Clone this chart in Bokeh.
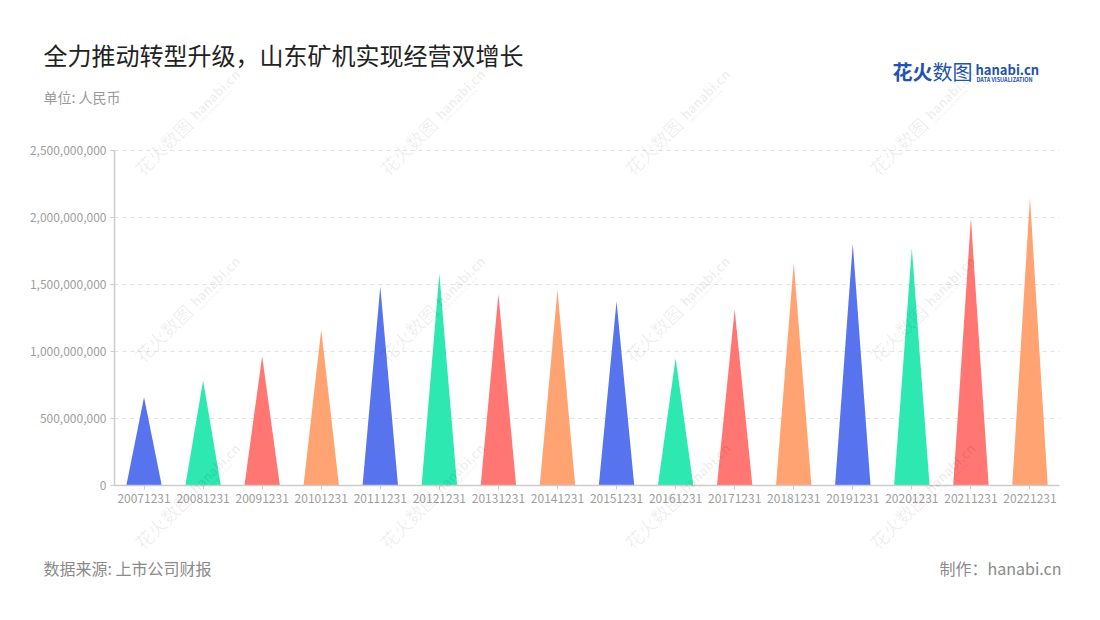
from bokeh.plotting import figure
from bokeh.models import (Range1d, FixedTicker, NumeralTickFormatter, Label, ColumnDataSource)
from bokeh.embed import file_html
from bokeh.resources import INLINE

# ---- data ----
periods = ["20071231", "20081231", "20091231", "20101231", "20111231", "20121231",
           "20131231", "20141231", "20151231", "20161231", "20171231", "20181231",
           "20191231", "20201231", "20211231", "20221231"]
revenue = [659e6, 784e6, 965e6, 1164e6, 1485e6, 1580e6, 1430e6, 1460e6,
           1375e6, 950e6, 1313e6, 1662e6, 1804e6, 1771e6, 1995e6, 2151e6]
palette = ["#5873EE", "#2DE8B0", "#FF7672", "#FFA372"]
y_ticks = [0, 500e6, 1000e6, 1500e6, 2000e6, 2500e6]

FONT = "Noto Sans CJK SC"
W, H = 1096, 616
# data region in page pixels
FL, FR, FT, FB = 114, 1059, 150, 485
N = len(periods)
YMAX = 2.5e9
xpp = N / (FR - FL)          # data units per pixel (x)
ypp = YMAX / (FB - FT)       # data units per pixel (y)
x0 = -0.5 - FL * xpp
x1 = -0.5 + (W - FL) * xpp
y1 = FB * ypp
y0 = -(H - FB) * ypp

p = figure(width=W, height=H, output_backend="svg", toolbar_location=None,
           x_range=Range1d(x0, x1), y_range=Range1d(y0, y1),
           min_border=0, min_border_left=0, min_border_right=0,
           min_border_top=0, min_border_bottom=0, title=None)
p.outline_line_color = None
p.background_fill_color = "white"
p.border_fill_color = "white"
p.xgrid.visible = False
p.ygrid.visible = False

# dashed horizontal grid lines at the y ticks
grid_y = y_ticks[1:]
p.segment(x0=[-0.5] * len(grid_y), x1=[N - 0.5] * len(grid_y), y0=grid_y, y1=grid_y,
          line_color="#e2e2e2", line_dash="4 4", line_width=1)

half = 0.3
xs = [[i - half, i, i + half] for i in range(N)]
ys = [[0, v, 0] for v in revenue]
cols = [palette[i % 4] for i in range(N)]
src = ColumnDataSource(dict(xs=xs, ys=ys, color=cols))
p.patches("xs", "ys", source=src, fill_color="color", line_color=None)

# axes (fixed inside the frame)
xa, ya = p.xaxis[0], p.yaxis[0]
xa.fixed_location = 0
ya.fixed_location = -0.5
xa.bounds = (-0.5, N - 0.5)
ya.bounds = (0, YMAX)
xa.ticker = FixedTicker(ticks=list(range(N)))
xa.major_label_overrides = {i: s for i, s in enumerate(periods)}
ya.ticker = FixedTicker(ticks=y_ticks)
ya.formatter = NumeralTickFormatter(format="0,0")
for ax in (xa, ya):
    ax.axis_line_color = "#cccccc"
    ax.axis_line_width = 1.5
    ax.major_tick_line_color = "#cccccc"
    ax.major_tick_in = 0
    ax.major_tick_out = 4
    ax.minor_tick_line_color = None
    ax.major_label_text_color = "#9e9e9e"
    ax.major_label_text_font = FONT
    ax.major_label_text_font_size = "12px"
    ax.major_label_standoff = 4


def add_label(text, px, py, size, color, align="left", style="normal", alpha=1.0,
              angle=0, font=FONT, baseline="middle"):
    p.add_layout(Label(x=px, y=H - py, x_units="screen", y_units="screen", text=text,
                       text_font=font, text_font_size=f"{size}px", text_color=color,
                       text_align=align, text_baseline=baseline, text_font_style=style,
                       text_alpha=alpha, angle=angle, angle_units="deg"))


# watermarks (junction point between the Chinese and Latin parts)
for jx in (190, 435, 680, 925):
    for jy in (118, 305, 492):
        add_label("花火数图", jx - 2, jy + 2, 18, "#000000", align="right",
                  alpha=0.075, angle=45)
        add_label("hanabi.cn", jx + 2, jy - 2, 13, "#000000", align="left",
                  style="bold", alpha=0.075, angle=45)
        add_label("DATA VISUALIZATION", jx + 9, jy + 4, 4.5, "#000000", align="left",
                  style="bold", alpha=0.075, angle=45)

add_label("全力推动转型升级，山东矿机实现经营双增长", 43, 54, 24, "#222222")
add_label("单位: 人民币", 43, 96, 14, "#9a9a9a")
add_label("数据来源: 上市公司财报", 43, 567, 16, "#8a8a8a")
add_label("制作：hanabi.cn", 1061, 567, 16, "#8a8a8a", align="right")
# logo
add_label("花火", 892, 71, 20, "#2552AC", style="bold")
add_label("数图", 932, 71, 20, "#2552AC")
add_label("hanabi.cn", 975, 69, 13, "#2552AC", style="bold")
add_label("DATA VISUALIZATION", 976, 79, 5.5, "#2552AC", style="bold")

open("out.html", "w").write(file_html(p, INLINE))
